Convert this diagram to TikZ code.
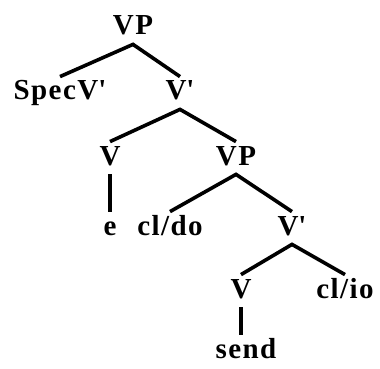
\documentclass[tikz,border=0pt]{standalone}
\usepackage{fontspec}
\setmainfont[LetterSpace=5]{Liberation Serif}
\usepackage{tikz}
\usetikzlibrary{calc, positioning}

\begin{document}
\begin{tikzpicture}[x=0.5pt,y=-0.5pt,
  cat/.style={anchor=base,inner sep=1.5pt,text height=10pt,text depth=3pt,font=\fontsize{14.5}{17}\selectfont\bfseries},
  branch/.style={line width=1.8pt}]
\useasboundingbox (0,0) rectangle (380,369);

\node[cat] (vp top) at (133,35) {VP};
\node[cat] (specv) at (60,100) {SpecV\textquotesingle};
\node[cat] (vbar a) at (180,100) {V\textquotesingle};
\node[cat] (v a) at (110,165) {V};
\node[cat] (vp low) at (236,165) {VP};
\node[cat] (e) at (110,235) {e};
\node[cat] (cldo) at (170,235) {cl/do};
\node[cat] (vbar b) at (292,235) {V\textquotesingle};
\node[cat] (v b) at (241,298) {V};
\node[cat] (clio) at (345,298) {cl/io};
\node[cat] (send) at (246,358) {send};

\draw[branch] (specv.north) -- (vp top.south) -- (vbar a.north);
\draw[branch] (v a.north) -- (vbar a.south) -- (vp low.north);
\draw[branch] (v a.south) -- (v a.south |- e.north);
\draw[branch] (cldo.north) -- (vp low.south) -- (vbar b.north);
\draw[branch] (v b.north) -- (vbar b.south) -- (clio.north);
\draw[branch] (v b.south) -- (v b.south |- send.north);
\end{tikzpicture}
\end{document}
